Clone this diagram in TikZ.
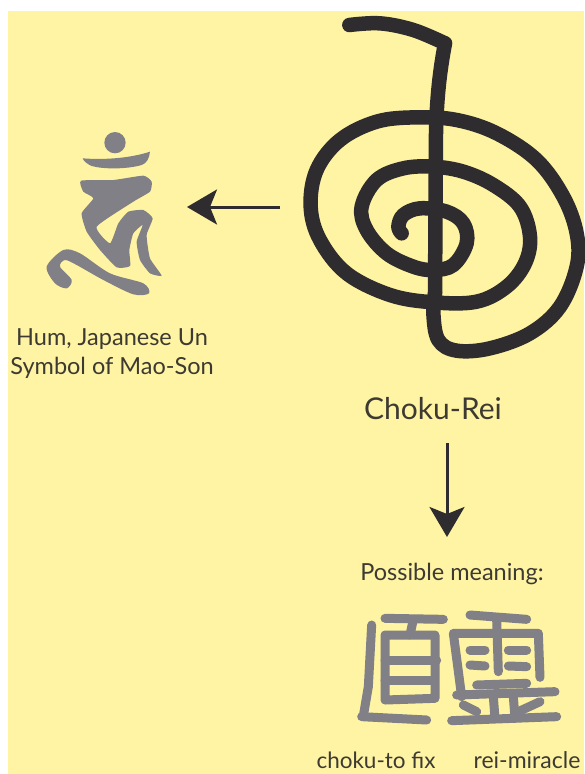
\documentclass[tikz,border=0pt]{standalone}
\usepackage{fontspec}
\setmainfont{Lato}
\usetikzlibrary{arrows.meta}
\definecolor{fond}{HTML}{FFF4A3}
\definecolor{encre}{HTML}{2E2C2E}
\definecolor{gris}{HTML}{808086}
\definecolor{texte}{HTML}{3C3A32}
\tikzset{
  spirale/.style={draw=encre,line width=14.5pt,line cap=round,line join=round},
  fleche/.style={draw=encre,line width=3pt,-{Stealth[length=30pt,width=35pt,inset=7pt]}},
  trait/.style={draw=gris,line width=9pt,line cap=round,line join=round},
  legende/.style={text=texte,inner sep=0pt,anchor=base,font=\fontsize{#1}{#1}\selectfont},
}
\begin{document}
\begin{tikzpicture}[x=1pt,y=-1pt]
\useasboundingbox (0,0) rectangle (584,774);
\fill[fond] (8,11) rectangle (584,774); %% le fond jaune

%% la spirale
\begin{scope}[shift={(290,0)},scale=1/3]
\draw[spirale] plot[smooth,tension=0.6] coordinates {(178,75) (270,70) (370,90) (465,130)};
\draw[spirale] (465,130) .. controls (448,220) and (440,300) .. (438,400) -- (435,880);
\draw[spirale] plot[smooth,tension=0.6] coordinates {(435,880) (430,940) (445,1020) (500,1052)
  (600,1045) (720,1000) (810,920) (860,800) (860,700) (820,590) (740,480) (620,400)
  (500,360) (380,352) (260,365) (150,420) (80,510) (62,620) (90,720) (170,820) (300,885)
  (430,907) (560,905) (650,860) (705,790) (720,710) (690,620) (610,555) (520,515)
  (430,500) (340,505) (260,540) (215,620) (230,690) (290,760) (370,800) (430,810)
  (490,795) (530,730) (520,670) (470,635) (390,625) (340,645) (325,680) (335,700)};
\end{scope}

%% les deux fleches
\coordinate (spiraleg) at (280,207);
\coordinate (hump) at (187,207);
\coordinate (reib) at (447,443);
\coordinate (possh) at (447,537);
\draw[fleche] (spiraleg) -- (hump);
\draw[fleche] (reib) -- (possh);

%% le signe Hum
\begin{scope}[shift={(0,110)},scale=1/3,fill=gris]
\fill (345,98) circle (32);
\fill (248,145) .. controls (310,150) and (390,145) .. (450,125)
  .. controls (448,145) and (440,160) .. (425,165)
  .. controls (380,178) and (310,178) .. (275,168)
  .. controls (262,162) and (252,155) .. (248,145) -- cycle;
\fill plot[smooth cycle,tension=0.3] coordinates {(243,212) (340,210) (430,197) (455,215)
  (450,245) (400,275) (290,350) (330,400) (355,340) (385,305) (430,300) (458,325)
  (440,375) (450,445) (485,497) (450,490) (420,450) (410,395) (428,345) (400,370)
  (388,420) (390,468) (350,472) (300,420) (260,365) (245,310) (280,265) (250,245)};
\fill plot[smooth cycle,tension=0.5] coordinates {(140,470) (190,420) (240,430) (330,490)
  (430,520) (447,550) (400,553) (310,510) (230,465) (195,450) (180,470) (215,510)
  (200,535) (165,520)};
\end{scope}

%% les deux caracteres
\begin{scope}[shift={(300,590)},scale=1/3]
\draw[trait] (255,85) -- (430,88);
\draw[trait] (340,88) -- (330,135);
\draw[trait] (215,105) -- (205,290) -- (190,378);
\draw[trait] (185,380) -- (380,390);
\draw[trait] (255,135) -- (405,135) -- (405,325) -- (255,330) -- cycle;
\draw[trait] (255,210) -- (410,210);
\draw[trait] (255,270) -- (400,270);
\draw[trait] (510,75) -- (680,88);
\draw[trait] (485,320) -- (460,130) -- (715,130) -- (720,262);
\draw[trait] (590,88) -- (595,245);
\draw[trait] (510,180) -- (555,180);
\draw[trait] (625,180) -- (680,180);
\draw[trait] (510,225) -- (555,228);
\draw[trait] (625,228) -- (680,230);
\draw[trait] (530,285) -- (680,280);
\draw[trait] (470,315) -- (765,305);
\draw[trait] (490,345) -- (530,365);
\draw[trait] (720,335) -- (655,365);
\draw[trait] (580,320) -- (585,385);
\draw[trait] (640,320) -- (645,385);
\draw[trait] (455,392) -- (770,380);
\end{scope}

%% notations
\draw (112,345) node[legende=23.5] (hum) {Hum, Japanese Un};
\draw (112,374) node[legende=23.5] (mao) {Symbol of Mao-Son};
\draw (433,419) node[legende=30] (choku) {Choku-Rei};
\draw (452,580) node[legende=23.5] (possible) {Possible meaning:};
\draw (376,768) node[legende=22.5] (fix) {choku-to fix};
\draw (527,768) node[legende=23] (miracle) {rei-miracle};
\end{tikzpicture}
\end{document}
